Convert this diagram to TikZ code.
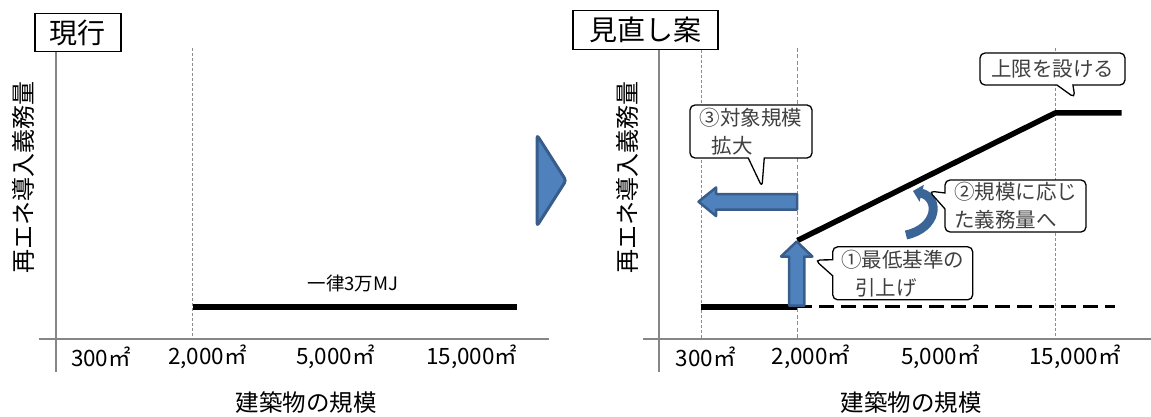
\documentclass[tikz,border=0pt]{standalone}
\usepackage{fontspec}
\setmainfont{Noto Sans CJK JP}
\usetikzlibrary{shapes.callouts,arrows.meta}
\definecolor{axisgray}{HTML}{868686}
\definecolor{gridgray}{HTML}{8C8C8C}
\definecolor{bluefill}{HTML}{4F81BD}
\definecolor{blueedge}{HTML}{385D8A}
\definecolor{curveblue}{HTML}{3B6596}
\definecolor{calltext}{HTML}{404040}
\begin{document}
\begin{tikzpicture}[x=1pt,y=-1pt,
 axis/.style={draw=axisgray,line width=2pt},
 gridline/.style={draw=gridgray,line width=1.3pt,dash pattern=on 3pt off 2pt},
 level/.style={line width=6pt},
 titlebox/.style={draw,line width=1.5pt,font=\fontsize{28}{30}\selectfont,inner sep=0pt,anchor=north west,fill=white},
 tick/.style={font=\fontsize{22.5}{24}\selectfont},
 ylab/.style={rotate=90,font=\fontsize{24}{26}\selectfont},
 xlab/.style={font=\fontsize{23.5}{26}\selectfont},
 callbox/.style={rectangle callout,draw,line width=1.3pt,rounded corners=5pt,fill=white,text=calltext,font=\fontsize{20.5}{28}\selectfont,align=left,inner sep=0pt,callout pointer width=16pt},
 block/.style={fill=bluefill,draw=blueedge,line width=2.5pt,line join=round}
]
\useasboundingbox (0,0) rectangle (1151,417);

% ---------------- left panel ----------------
\draw[gridline] (192.7,48) -- (192.7,339);
\draw[axis] (55.5,48) -- (55.5,372);
\draw[axis] (38.8,339) -- (548.6,339);
\draw[level] (192.7,307) -- (516.8,307);
\node[font=\fontsize{18.5}{20}\selectfont] (flat) at (353,283) {一律3万MJ};
\node[titlebox,minimum width=86pt,minimum height=38pt] (t1) at (34,13) {現行};
\node[tick] (l300) at (101,357) {300㎡};
\node[tick] (l2000) at (207.5,357) {2,000㎡};
\node[tick] (l5000) at (335.5,357) {5,000㎡};
\node[tick] (l15000) at (471.7,357) {15,000㎡};
\node[ylab] (ly) at (23,177) {再エネ導入義務量};
\node[xlab] (lx) at (306,403) {建築物の規模};

% ---------------- transition arrow ----------------
\draw[block,line width=3pt,rounded corners=3pt] (537,135) -- (566,180.5) -- (537,226) -- cycle;

% ---------------- right panel ----------------
\draw[gridline] (701.3,50) -- (701.3,339);
\draw[gridline,line width=1.8pt,dash pattern=on 4pt off 2.5pt] (797.4,48) -- (797.4,339);
\draw[gridline] (1055.2,48) -- (1055.2,339);
\draw[axis] (659.4,48) -- (659.4,372);
\draw[axis] (643,339) -- (1151,339);
\coordinate (b0) at (700.7,306.7);
\coordinate (b1) at (797.4,306.7);
\coordinate (b2) at (1115,306.7);
\coordinate (s0) at (797.4,240.5);
\coordinate (s1) at (1055.2,113);
\coordinate (s2) at (1121.5,113);
\draw[level] (b0) -- (b1);
\draw[level,line width=3.5pt,dash pattern=on 15pt off 7pt] (b1) -- (b2);
\draw[level,line width=5.5pt,line join=round] (s0) -- (s1) -- (s2);

% blue block arrows
\draw[block] (797,194) -- (716,194) -- (716,187.5) -- (698.5,201.7) -- (716,216) -- (716,209.5) -- (797,209.5) -- cycle;
\draw[block] (789,305.5) -- (789,256.5) -- (781,256.5) -- (796.7,241.5) -- (812.4,256.5) -- (804.4,256.5) -- (804.4,305.5) -- cycle;
\draw[curveblue,line width=9pt,-{Triangle[width=17pt,length=9pt]}] (906,235) .. controls (938,228) and (940,198) .. (913,191);

% callouts
\node[callbox,minimum width=122pt,minimum height=53pt,callout absolute pointer={(762,187)}] (c3) at (751,131.5) {③対象規模\\\hspace*{12pt}拡大};
\node[callbox,minimum width=140pt,minimum height=53pt,callout absolute pointer={(815,260)}] (c1) at (902.7,273.3) {①最低基準の\\\hspace*{14pt}引上げ};
\node[callbox,minimum width=141pt,minimum height=52pt,callout absolute pointer={(929,191)}] (c2) at (1015.5,206) {②規模に応じ\\た義務量へ};
\node[callbox,minimum width=145pt,minimum height=32pt,callout absolute pointer={(1075,98)}] (c4) at (1052.5,69) {上限を設ける};

\node[titlebox,minimum width=145pt,minimum height=39pt] (t2) at (572,10) {見直し案};
\node[tick] (r300) at (705.6,357) {300㎡};
\node[tick] (r2000) at (811,357) {2,000㎡};
\node[tick] (r5000) at (940.5,357) {5,000㎡};
\node[tick] (r15000) at (1075,357) {15,000㎡};
\node[ylab] (ry) at (627,177) {再エネ導入義務量};
\node[xlab] (rx) at (911,403) {建築物の規模};
\end{tikzpicture}
\end{document}
